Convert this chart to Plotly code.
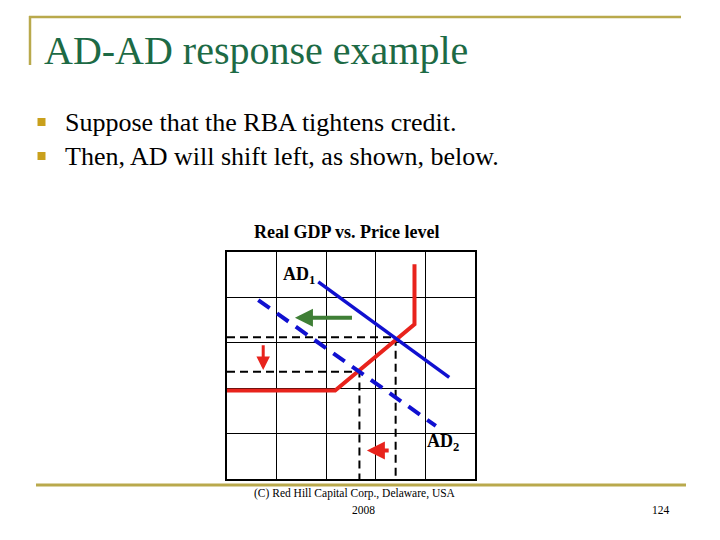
import plotly.graph_objects as go

# The page body keeps a default 8px margin, so the figure is drawn 8px smaller
# and every slide position is expressed in window pixels minus that offset.
OFF = 8
W, H = 720 - OFF, 540 - OFF

# ---- data (chart units: 5x5 grid) ----
ad1_x = [1.84, 4.48]
ad1_y = [4.34, 2.24]
ad2_x = [0.63, 4.21]
ad2_y = [3.94, 1.17]
as_x = [0.0, 2.18, 3.78, 3.78]
as_y = [1.95, 1.95, 3.41, 4.73]
eq1 = [3.40, 3.12]
eq2 = [2.67, 2.36]
green_arrow = [2.55, 1.37, 3.55]      # x_tail, x_head, y
price_arrow = [0.73, 2.98, 2.40]      # x, y_tail, y_head
gdp_arrow = [3.29, 2.82, 0.63]        # x_tail, x_head, y
labels = ["AD<sub>1</sub>", "AD<sub>2</sub>"]
label_x = [1.45, 4.36]
label_y = [4.49, 0.80]

chart_title = "Real GDP vs. Price level"
slide_title = "AD-AD response example"
bullets = ["Suppose that the RBA tightens credit.",
           "Then, AD will shift left, as shown, below."]
footer_lines = ["(C) Red Hill Capital Corp., Delaware, USA", "2008"]
page_no = "124"

GOLD = "#b9a94c"
BLUE = "#1010d0"
RED = "#e8231c"
GREEN = "#3f7f36"
SERIF = "Liberation Serif, Times New Roman, serif"


def px(x):
    return (x - OFF) / W


def py(y):
    return 1 - (y - OFF) / H


fig = go.Figure()

# dashed guides
fig.add_trace(go.Scatter(x=[0, eq1[0], eq1[0]], y=[eq1[1], eq1[1], 0], mode="lines",
                         line=dict(color="black", width=2, dash="8px,5px"), hoverinfo="skip"))
fig.add_trace(go.Scatter(x=[0, eq2[0], eq2[0]], y=[eq2[1], eq2[1], 0], mode="lines",
                         line=dict(color="black", width=2, dash="8px,5px"), hoverinfo="skip"))
# AS curve
fig.add_trace(go.Scatter(x=as_x, y=as_y, mode="lines",
                         line=dict(color=RED, width=4), hoverinfo="skip"))
# AD2 dashed
fig.add_trace(go.Scatter(x=ad2_x, y=ad2_y, mode="lines",
                         line=dict(color=BLUE, width=4, dash="14px,9px"), hoverinfo="skip"))
# AD1
fig.add_trace(go.Scatter(x=ad1_x, y=ad1_y, mode="lines",
                         line=dict(color=BLUE, width=3.5), hoverinfo="skip"))

# arrows
fig.add_annotation(x=green_arrow[1], y=green_arrow[2], ax=green_arrow[0], ay=green_arrow[2],
                   xref="x", yref="y", axref="x", ayref="y", text="", showarrow=True,
                   arrowhead=2, arrowsize=0.9, arrowwidth=4, arrowcolor=GREEN)
fig.add_annotation(x=price_arrow[0], y=price_arrow[2], ax=price_arrow[0], ay=price_arrow[1],
                   xref="x", yref="y", axref="x", ayref="y", text="", showarrow=True,
                   arrowhead=2, arrowsize=0.9, arrowwidth=3, arrowcolor=RED)
fig.add_annotation(x=gdp_arrow[1], y=gdp_arrow[2], ax=gdp_arrow[0], ay=gdp_arrow[2],
                   xref="x", yref="y", axref="x", ayref="y", text="", showarrow=True,
                   arrowhead=2, arrowsize=0.9, arrowwidth=4, arrowcolor=RED)

# curve labels
for t, lx, ly in zip(labels, label_x, label_y):
    fig.add_annotation(x=lx, y=ly, xref="x", yref="y", text="<b>" + t + "</b>",
                       showarrow=False, font=dict(family=SERIF, size=18, color="black"))

# chart title
fig.add_annotation(x=px(346), y=py(232), xref="paper", yref="paper",
                   text="<b>" + chart_title + "</b>", showarrow=False,
                   font=dict(family=SERIF, size=18, color="black"))

# slide title
fig.add_annotation(x=px(42), y=py(50), xref="paper", yref="paper", xanchor="left",
                   yanchor="middle", text=slide_title, showarrow=False,
                   font=dict(family=SERIF, size=40, color="#1d6a45"))

# bullets
for i, b in enumerate(bullets):
    yy = 122 + 34 * i
    fig.add_shape(type="rect", xref="paper", yref="paper",
                  x0=px(37.5), x1=px(45.5), y0=py(yy + 4), y1=py(yy - 4),
                  fillcolor="#c9a01c", line=dict(width=0))
    fig.add_annotation(x=px(63), y=py(yy), xref="paper", yref="paper", xanchor="left",
                       yanchor="middle", text=b, showarrow=False,
                       font=dict(family=SERIF, size=26, color="black"))

# slide decorations
fig.add_shape(type="line", xref="paper", yref="paper", x0=px(29), x1=px(681),
              y0=py(17), y1=py(17), line=dict(color=GOLD, width=2.5))
fig.add_shape(type="line", xref="paper", yref="paper", x0=px(30), x1=px(30),
              y0=py(16), y1=py(65), line=dict(color=GOLD, width=2.5))
fig.add_shape(type="line", xref="paper", yref="paper", x0=px(36), x1=px(686),
              y0=py(485), y1=py(485), line=dict(color=GOLD, width=3))

# footer
fig.add_annotation(x=px(355), y=py(502), xref="paper", yref="paper", text=footer_lines[0],
                   showarrow=False, font=dict(family=SERIF, size=11.5, color="black"))
fig.add_annotation(x=px(363), y=py(518), xref="paper", yref="paper", text=footer_lines[1],
                   showarrow=False, font=dict(family=SERIF, size=11.5, color="black"))
fig.add_annotation(x=px(672), y=py(518), xref="paper", yref="paper", text=page_no,
                   showarrow=False, font=dict(family=SERIF, size=11.5, color="black"))

axis_common = dict(range=[0, 5], dtick=1, tick0=0, showgrid=True, gridcolor="black",
                   gridwidth=1, showticklabels=False, ticks="", zeroline=False,
                   showline=True, linecolor="black", linewidth=2, mirror=True,
                   fixedrange=True)
fig.update_layout(
    width=W, height=H, margin=dict(l=0, r=0, t=0, b=0),
    paper_bgcolor="white", plot_bgcolor="white", showlegend=False,
    xaxis=dict(domain=[px(227), px(475)], **axis_common),
    yaxis=dict(domain=[py(479), py(252)], **axis_common),
)

fig.write_html("out.html")
